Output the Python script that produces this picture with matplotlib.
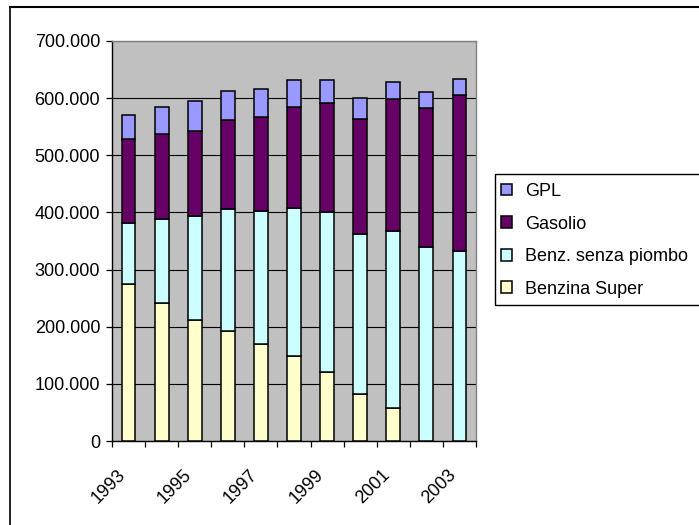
import matplotlib
matplotlib.use("Agg")
import matplotlib.pyplot as plt
from matplotlib.lines import Line2D
from matplotlib.patches import Rectangle
import numpy as np

plt.rcParams['font.family'] = ['Liberation Sans', 'DejaVu Sans']

years = ['1993', '1994', '1995', '1996', '1997', '1998', '1999', '2000', '2001', '2002', '2003']
benzina_super = [275000, 242000, 212000, 193000, 170000, 148000, 121000, 82000, 57000, 0, 0]
benz_senza_piombo = [107000, 146000, 181000, 213000, 233000, 260000, 279000, 281000, 310000, 339000, 333000]
gasolio = [146000, 149000, 150000, 155000, 164000, 177000, 191000, 201000, 231000, 243000, 273000]
gpl = [42000, 48000, 52000, 51000, 49000, 46000, 40000, 37000, 30000, 28000, 27000]

series = [
    ('Benzina Super', benzina_super, '#FFFFCC'),
    ('Benz. senza piombo', benz_senza_piombo, '#CCFFFF'),
    ('Gasolio', gasolio, '#660066'),
    ('GPL', gpl, '#9999FF'),
]

W, H = 699, 525
fig = plt.figure(figsize=(W / 100, H / 100), dpi=100)
ax = fig.add_axes([112 / W, 1 - 441 / H, (476 - 112) / W, (441 - 41) / H])
ax.set_facecolor('#C0C0C0')

x = np.arange(len(years))
bottom = np.zeros(len(years))
handles = {}
for name, vals, col in series:
    v = np.array(vals, dtype=float)
    b = ax.bar(x, v, bottom=bottom, width=0.42, color=col, edgecolor='black',
               linewidth=1.1, zorder=3, label=name)
    handles[name] = b
    bottom += v

ax.set_xlim(-0.5, len(years) - 0.5)
ax.set_ylim(0, 700000)
yt = np.arange(0, 700001, 100000)
ax.set_yticks(yt)
ax.set_yticklabels(['0' if v == 0 else f"{v // 1000}.000" for v in yt], fontsize=13)
ax.yaxis.grid(True, color='black', linewidth=0.8, zorder=1)
ax.set_axisbelow(True)

# tick marks between categories, labels on every other category center
ax.set_xticks(np.arange(-0.5, len(years), 1.0))
ax.set_xticklabels([])
ax.set_xticks(x[::2], minor=True)
ax.set_xticklabels([years[i] for i in x[::2]], minor=True, rotation=45,
                   ha='right', va='top', fontsize=13)
ax.tick_params(axis='x', which='major', direction='out', length=4.5, width=0.9)
ax.tick_params(axis='x', which='minor', length=0, pad=18)
ax.tick_params(axis='y', direction='out', length=4.5, width=0.9, pad=4)

for s in ['left', 'bottom']:
    ax.spines[s].set_color('black')
    ax.spines[s].set_linewidth(1.0)
for s in ['top', 'right']:
    ax.spines[s].set_color('#808080')
    ax.spines[s].set_linewidth(1.0)

# legend (reverse order)
order = ['GPL', 'Gasolio', 'Benz. senza piombo', 'Benzina Super']
leg = fig.legend([handles[n] for n in order], order, loc='upper left',
                 bbox_to_anchor=(501 / W, 1 - 183 / H), frameon=False,
                 fontsize=13, handlelength=0.62, handleheight=0.62,
                 handletextpad=0.7, labelspacing=0.86, borderpad=0,
                 borderaxespad=0)

# legend frame extending past right edge
fig.add_artist(Rectangle((495 / W, 1 - 305 / H), 1.0, (305 - 174) / H,
                         transform=fig.transFigure, fill=False,
                         edgecolor='black', linewidth=1.0))

# figure border (top and left only visible)
fig.add_artist(Line2D([10 / W, 10 / W], [0, 1 - 7 / H], transform=fig.transFigure,
                      color='black', linewidth=1.2))
fig.add_artist(Line2D([10 / W, 1], [1 - 7 / H, 1 - 7 / H], transform=fig.transFigure,
                      color='black', linewidth=1.5))

fig.savefig('out.png', dpi=100)
